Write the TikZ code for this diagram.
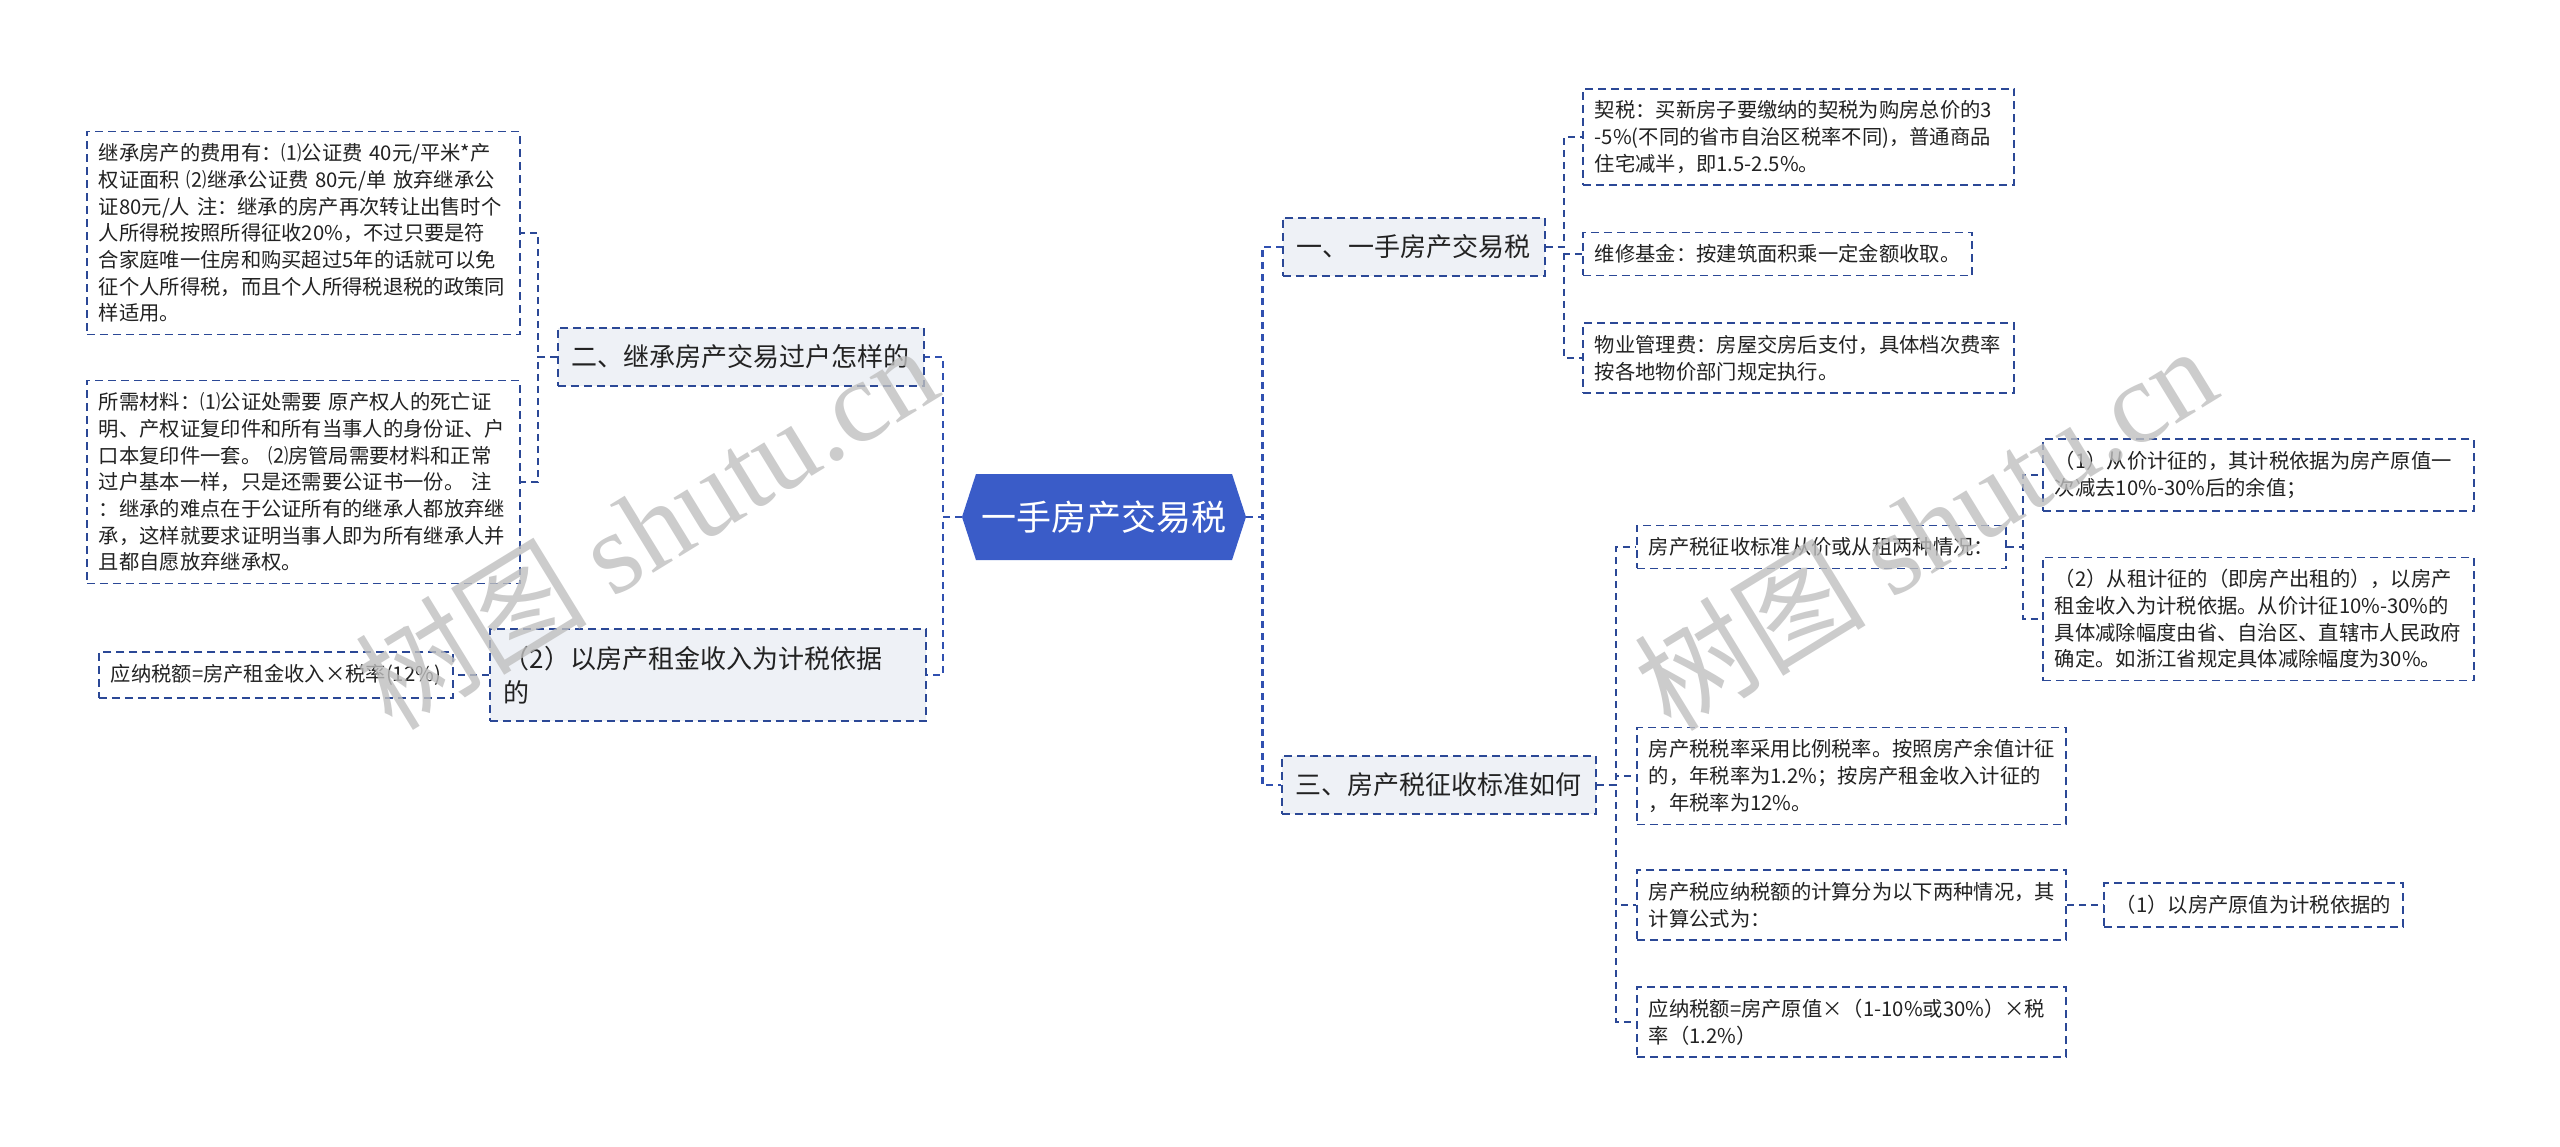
\documentclass[tikz,border=0pt]{standalone}
\usepackage{fontspec}
\usepackage{tikz}
\usetikzlibrary{shapes.symbols}
\setmainfont{Noto Sans CJK SC}
\newfontfamily\wmserif{Liberation Serif}
\definecolor{linkblue}{HTML}{2B4896}
\definecolor{trunkblue}{HTML}{3050B0}
\definecolor{rootblue}{HTML}{3A5CC8}
\definecolor{topicfill}{HTML}{EEF1F6}
\definecolor{inkgray}{HTML}{222222}
\newcommand{\leaffont}{\fontsize{20.3}{26.7}\selectfont}
\newcommand{\topicfont}{\fontsize{26}{34}\selectfont}
\newcommand{\rootfont}{\fontsize{35}{42}\selectfont}
\newcommand{\wmfont}{\fontsize{116}{116}\selectfont}
\tikzset{
  topic/.style={draw=linkblue, line width=1.8pt, dash pattern=on 8pt off 5pt,
    fill=topicfill, text=inkgray, font=\topicfont, inner xsep=14pt, inner ysep=17pt,
    anchor=west, align=left},
  leaf/.style={draw=linkblue, line width=1.8pt, dash pattern=on 8pt off 5pt,
    fill=white, text=inkgray, font=\leaffont, inner xsep=12pt, inner ysep=12pt,
    anchor=west, align=left},
  rootnode/.style={signal, signal to=east and west, signal pointer angle=144,
    fill=rootblue, text=white, font=\rootfont, minimum width=284pt, minimum height=86pt},
  linkline/.style={draw=linkblue, line width=1.8pt, dash pattern=on 7pt off 5pt},
  trunk/.style={draw=trunkblue, line width=2.6pt, dash pattern=on 7pt off 5pt},
  wmark/.style={text=black!25, opacity=0.8, rotate=31.5, inner sep=0pt, font=\wmfont}
}

\begin{document}
\begin{tikzpicture}[x=1pt,y=-1pt]
  \useasboundingbox (0,0) rectangle (2560,1147);
  \node[rootnode] (root) at (1104,517) {一手房产交易税};

  % left side
  \node[topic] (inherit) at (557,357) {二、继承房产交易过户怎样的};
  \node[leaf, text width=409pt] (costs) at (86,233) {继承房产的费用有：⑴公证费~40元/平米*产\\权证面积~⑵继承公证费~80元/单~放弃继承公\\证80元/人~注：继承的房产再次转让出售时个\\人所得税按照所得征收20\%，不过只要是符\\合家庭唯一住房和购买超过5年的话就可以免\\征个人所得税，而且个人所得税退税的政策同\\样适用。};
  \node[leaf, text width=409pt] (docs) at (86,482) {所需材料：⑴公证处需要~原产权人的死亡证\\明、产权证复印件和所有当事人的身份证、户\\口本复印件一套。~⑵房管局需要材料和正常\\过户基本一样，只是还需要公证书一份。~注\\：继承的难点在于公证所有的继承人都放弃继\\承，这样就要求证明当事人即为所有继承人并\\且都自愿放弃继承权。};
  \node[topic, text width=408pt] (rentbase) at (489,675) {（2）以房产租金收入为计税依据\\的};
  \node[leaf] (rentcalc) at (98,675) {应纳税额=房产租金收入×税率(12\%)};

  % right side
  \node[topic] (newtax) at (1282,247) {一、一手房产交易税};
  \node[leaf, text width=407pt] (deed) at (1582,137) {契税：买新房子要缴纳的契税为购房总价的3\\-5\%(不同的省市自治区税率不同)，普通商品\\住宅减半，即1.5-2.5\%。};
  \node[leaf] (maint) at (1582,254) {维修基金：按建筑面积乘一定金额收取。};
  \node[leaf, text width=407pt] (fee) at (1582,358) {物业管理费：房屋交房后支付，具体档次费率\\按各地物价部门规定执行。};
  \node[topic] (proptax) at (1281,785) {三、房产税征收标准如何};
  \node[leaf] (basis) at (1636,547) {房产税征收标准从价或从租两种情况：};
  \node[leaf, text width=407pt] (byvalue) at (2042,475) {（1）从价计征的，其计税依据为房产原值一\\次减去10\%-30\%后的余值；};
  \node[leaf, text width=407pt] (byrent) at (2042,619) {（2）从租计征的（即房产出租的），以房产\\租金收入为计税依据。从价计征10\%-30\%的\\具体减除幅度由省、自治区、直辖市人民政府\\确定。如浙江省规定具体减除幅度为30\%。};
  \node[leaf, text width=405pt] (rate) at (1636,776) {房产税税率采用比例税率。按照房产余值计征\\的，年税率为1.2\%；按房产租金收入计征的\\，年税率为12\%。};
  \node[leaf, text width=405pt] (calc) at (1636,905) {房产税应纳税额的计算分为以下两种情况，其\\计算公式为：};
  \node[leaf] (origval) at (2103,905) {（1）以房产原值为计税依据的};
  \node[leaf, text width=405pt] (formula) at (1636,1022) {应纳税额=房产原值×（1-10\%或30\%）×税\\率（1.2\%）};

  \draw[trunk] (root.west) -- ++(-19,0) |- (inherit.east);
  \draw[trunk] (root.west) -- ++(-19,0) |- (rentbase.east);
  \draw[trunk] (root.east) -- ++(16,0) |- (newtax.west);
  \draw[trunk] (root.east) -- ++(16,0) |- (proptax.west);
  \foreach \kid in {costs,docs}
    \draw[linkline] (inherit.west) -- ++(-19,0) |- (\kid.east);
  \draw[linkline] (rentbase.west) -- (rentcalc.east);
  \foreach \kid in {deed,maint,fee}
    \draw[linkline] (newtax.east) -- ++(18,0) |- (\kid.west);
  \foreach \kid in {basis,rate,calc,formula}
    \draw[linkline] (proptax.east) -- ++(19,0) |- (\kid.west);
  \foreach \kid in {byvalue,byrent}
    \draw[linkline] (basis.east) -- ++(16,0) |- (\kid.west);
  \draw[linkline] (calc.east) -- (origval.west);

  % watermarks
  \node[wmark] (wmleft) at (646,526) {树图~\wmserif shutu.cn};
  \node[wmark] (wmright) at (1925,527) {树图~\wmserif shutu.cn};
\end{tikzpicture}
\end{document}
